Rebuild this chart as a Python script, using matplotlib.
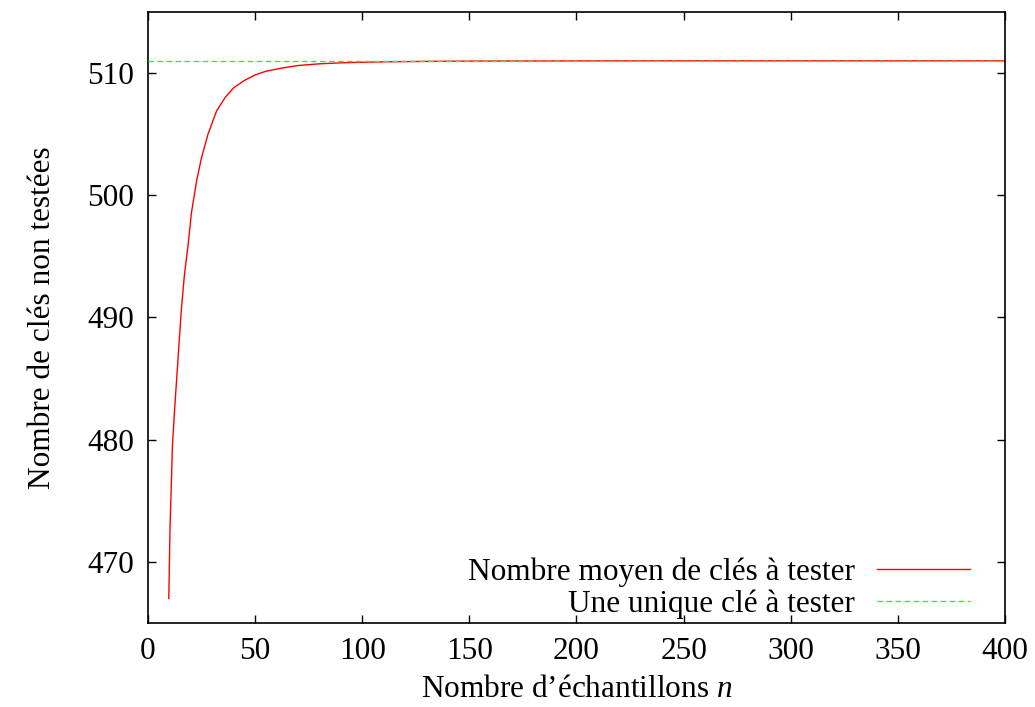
import matplotlib
matplotlib.use("Agg")
import matplotlib.pyplot as plt

plt.rcParams["font.family"] = "Liberation Serif"
plt.rcParams["mathtext.fontset"] = "custom"
plt.rcParams["mathtext.it"] = "Liberation Serif:italic"
plt.rcParams["mathtext.rm"] = "Liberation Serif"

# values
n_samples = [9.7, 10.3, 11, 11.4, 12.5, 14, 15.5, 17, 18.75, 20.3, 22.7, 25, 28, 32,
             36, 40, 45, 50, 55, 62, 70, 80, 90, 100, 113, 130, 150, 200, 250, 300, 350, 400]
mean_keys = [467.0, 473.0, 477.0, 479.5, 482.7, 486.6, 490.5, 493.5, 496.0, 498.6, 501.2, 503.1, 505.0, 506.9,
             508.0, 508.8, 509.4, 509.85, 510.15, 510.4, 510.62, 510.76, 510.84, 510.89, 510.93, 510.96, 510.98,
             510.995, 511.0, 511.0, 511.0, 511.0]
single_key = 511

fig = plt.figure(figsize=(10.35, 7.07), dpi=100)
ax = fig.add_axes([0.143, 0.119, 0.828, 0.864])

ax.plot(n_samples, mean_keys, color="red", lw=1.0, label="Nombre moyen de clés à tester", zorder=2)
ax.axhline(single_key, color="#33ee33", lw=1.0, dashes=(4, 2.5), label="Une unique clé à tester", zorder=3)

ax.set_xlim(0, 400)
ax.set_ylim(465, 515)
ax.set_xticks(range(0, 401, 50))
ax.set_yticks(range(470, 511, 10))
ax.tick_params(direction="in", top=True, right=True, length=6, width=1, labelsize=22.5, pad=10)
for s in ax.spines.values():
    s.set_linewidth(1.2)

ax.set_xlabel("Nombre d’échantillons $n$", fontsize=22.5, labelpad=7)
ax.set_ylabel("Nombre de clés non testées", fontsize=22.5, labelpad=22)

ax.legend(loc="lower right", frameon=False, markerfirst=False, fontsize=22.5,
          handlelength=3.0, handletextpad=0.7, labelspacing=0.1,
          bbox_to_anchor=(0.985, -0.03), borderaxespad=0.3)

fig.savefig("out.png", dpi=100)
